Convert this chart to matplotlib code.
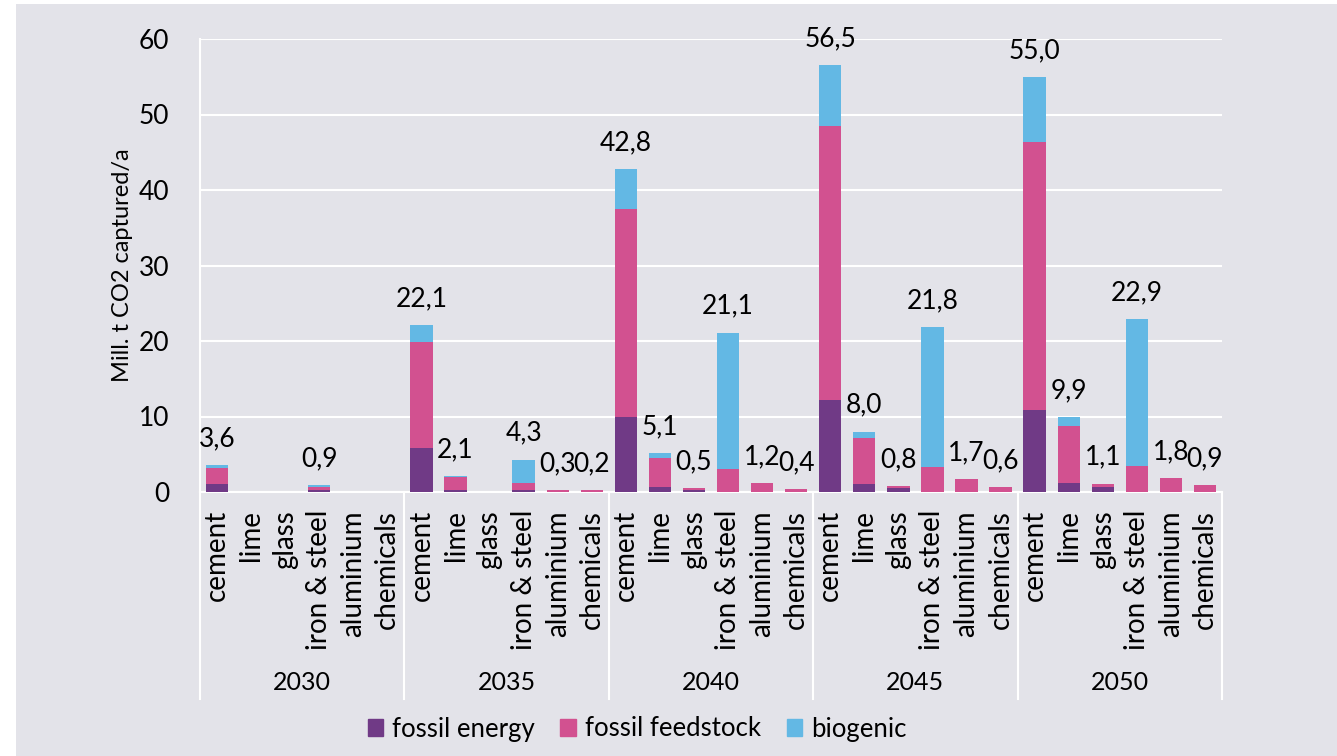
import matplotlib.pyplot as plt
from matplotlib.patches import Rectangle, Patch

plt.rcParams['font.family'] = ['Lato', 'DejaVu Sans']

categories = ['cement', 'lime', 'glass', 'iron & steel', 'aluminium', 'chemicals']
years = ['2030', '2035', '2040', '2045', '2050']

# one list of 6 values (per category) for each year
fossil_energy = [
    [1.0, 0, 0, 0.3, 0, 0],
    [5.8, 0.3, 0, 0.2, 0, 0],
    [10.0, 0.7, 0.2, 0, 0, 0],
    [12.2, 1.0, 0.5, 0, 0, 0],
    [10.9, 1.2, 0.6, 0, 0, 0],
]
fossil_feedstock = [
    [2.2, 0, 0, 0.4, 0, 0],
    [14.1, 1.7, 0, 1.0, 0.3, 0.2],
    [27.5, 3.8, 0.3, 3.1, 1.2, 0.4],
    [36.3, 6.2, 0.3, 3.3, 1.7, 0.6],
    [35.4, 7.6, 0.5, 3.5, 1.8, 0.9],
]
biogenic = [
    [0.4, 0, 0, 0.2, 0, 0],
    [2.2, 0.1, 0, 3.1, 0, 0],
    [5.3, 0.6, 0, 18.0, 0, 0],
    [8.0, 0.8, 0, 18.5, 0, 0],
    [8.7, 1.1, 0, 19.4, 0, 0],
]

c_fe = '#703a86'
c_ff = '#d25190'
c_bio = '#63b8e4'
bg = '#e3e3e9'

fig = plt.figure(figsize=(13.37, 7.56), dpi=100)
fig.patch.set_facecolor('white')
fig.patches.append(Rectangle((16/1337, 0), 1, 1 - 4/756, transform=fig.transFigure,
                             facecolor=bg, edgecolor='none', zorder=-10))

ax = fig.add_axes([200/1337, 1 - 492/756, 1022/1337, 453/756])
ax.set_facecolor(bg)

fe = [v for row in fossil_energy for v in row]
ff = [v for row in fossil_feedstock for v in row]
bio = [v for row in biogenic for v in row]
x = list(range(len(fe)))
w = 0.655

ax.bar(x, fe, w, color=c_fe, zorder=3)
ax.bar(x, ff, w, bottom=fe, color=c_ff, zorder=3)
ax.bar(x, bio, w, bottom=[a + b for a, b in zip(fe, ff)], color=c_bio, zorder=3)

for i in x:
    total = fe[i] + ff[i] + bio[i]
    if total > 0:
        ax.annotate(f"{total:.1f}".replace('.', ','), (i, total), xytext=(0, 10),
                    textcoords='offset points', ha='center', va='bottom', fontsize=19)

ax.set_xlim(-0.5, len(x) - 0.5)
ax.set_ylim(0, 60)
ax.set_yticks(range(0, 61, 10))
ax.tick_params(axis='y', length=0, pad=22, labelsize=19)
ax.set_xticks([])
ax.grid(axis='y', color='white', linewidth=1.5, zorder=0)
for s in ax.spines.values():
    s.set_visible(False)
ax.set_ylabel('Mill. t CO2 captured/a', fontsize=17, labelpad=4)

# category and year labels with separator lines
tr = ax.get_xaxis_transform()
for g, yr in enumerate(years):
    for k, cat in enumerate(categories):
        ax.text(g * 6 + k, -0.04, cat, transform=tr, rotation=90, ha='center', va='top', fontsize=20)
    ax.text(g * 6 + 2.5, -0.42, yr, transform=tr, ha='center', va='center', fontsize=18)
for g in range(len(years) + 1):
    ax.plot([g * 6 - 0.5, g * 6 - 0.5], [-0.457, 0], transform=tr, color='white',
            linewidth=1.5, clip_on=False, zorder=2)
ax.plot([-0.5, len(x) - 0.5], [0, 0], transform=tr, color='white', linewidth=1.5,
        clip_on=False, zorder=2)
ax.plot([-0.5, -0.5], [0, 1], transform=tr, color='white', linewidth=1.5, clip_on=False, zorder=2)

handles = [Patch(color=c_fe, label='fossil energy'),
           Patch(color=c_ff, label='fossil feedstock'),
           Patch(color=c_bio, label='biogenic')]
fig.legend(handles=handles, loc='center', bbox_to_anchor=(637/1337, 1 - 729/756), ncol=3,
           frameon=False, fontsize=18.5, handlelength=0.6, handleheight=0.6,
           handletextpad=0.35, columnspacing=1.0)

fig.savefig('out.png', dpi=100)
